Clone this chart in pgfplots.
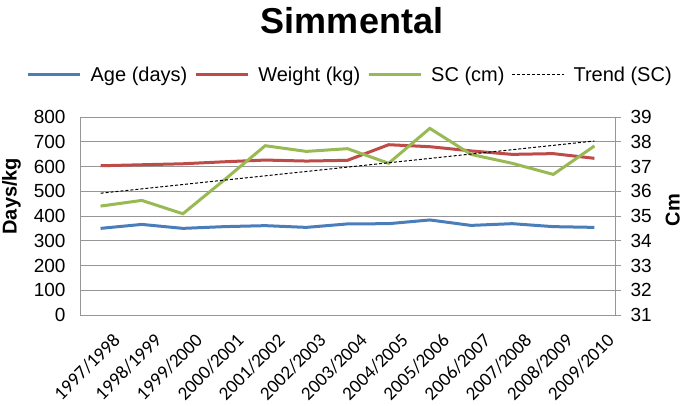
\documentclass[border=0pt]{standalone}
\usepackage{fontspec}
\setmainfont{Liberation Sans}
\newfontfamily\calfont{Carlito}
\usepackage{pgfplots}
\pgfplotsset{compat=1.18}
\definecolor{ageblue}{RGB}{74,126,187}
\definecolor{wtred}{RGB}{190,75,72}
\definecolor{scgreen}{RGB}{152,185,84}
\definecolor{gridgray}{RGB}{150,150,150}

\begin{document}
\begin{tikzpicture}
\useasboundingbox (-80pt,-91pt) rectangle (605pt,315pt);
\begin{axis}[
    scale only axis,
    width=535pt, height=198pt,
    at={(0pt,0pt)}, anchor=south west,
    xmin=-0.5, xmax=12.5,
    ymin=0, ymax=800,
    xtick={0,...,12},
    xticklabels={1997/1998,1998/1999,1999/2000,2000/2001,2001/2002,2002/2003,2003/2004,2004/2005,2005/2006,2006/2007,2007/2008,2008/2009,2009/2010},
    xticklabel style={font=\calfont\fontsize{19}{19}\selectfont, rotate=45, anchor=north east, inner sep=0pt, yshift=-20pt, xshift=-4pt},
    ytick={0,100,...,800},
    yticklabel style={font=\fontsize{19}{19}\selectfont, xshift=-11pt},
    /pgf/number format/assume math mode=true,
    major tick length=0pt,
    ymajorgrids,
    grid style={gridgray, line width=0.8pt},
    axis line style={gridgray, line width=0.8pt},
    axis y line*=left,
    ylabel={Days/kg},
    ylabel style={font=\bfseries\fontsize{20}{20}\selectfont, at={(axis description cs:-0.128,0.6)}, anchor=center},
    legend columns=4,
    legend style={draw=none, fill=none, font=\fontsize{20}{20}\selectfont,
        at={(axis description cs:0.505,1)}, anchor=center, yshift=42pt,
        /tikz/every even column/.append style={column sep=5pt},
        /tikz/every odd column/.append style={column sep=7pt}},
    legend image code/.code={\draw[#1] (0pt,0pt) -- (52pt,0pt);},
]
\addplot[ageblue, line width=3pt] coordinates {
(0,350) (1,366) (2,350) (3,357) (4,361) (5,354) (6,368) (7,369) (8,384) (9,362) (10,369) (11,357) (12,354)};
\addlegendentry{Age (days)}
\addplot[wtred, line width=3pt] coordinates {
(0,603) (1,607) (2,611) (3,619) (4,626) (5,622) (6,625) (7,688) (8,680) (9,663) (10,649) (11,652) (12,633)};
\addlegendentry{Weight (kg)}
\addlegendimage{scgreen, line width=3pt}
\addlegendentry{SC (cm)}
\addlegendimage{black, line width=1pt, dash pattern=on 3pt off 2pt}
\addlegendentry{Trend (SC)}
\end{axis}
\begin{axis}[
    scale only axis,
    width=535pt, height=198pt,
    at={(0pt,0pt)}, anchor=south west,
    xmin=-0.5, xmax=12.5,
    ymin=31, ymax=39,
    ytick={31,...,39},
    axis x line=none,
    axis y line*=right,
    axis line style={gridgray, line width=0.8pt},
    tick style={gridgray, line width=0.8pt},
    tick align=outside,
    major tick length=6pt,
    yticklabel style={font=\fontsize{19}{19}\selectfont, xshift=6pt},
    /pgf/number format/assume math mode=true,
    ylabel={Cm},
    ylabel style={font=\bfseries\fontsize{20}{20}\selectfont, at={(axis description cs:1.108,0.53)}, anchor=center, rotate=0},
]
\addplot[scgreen, line width=3pt] coordinates {
(0,35.40) (1,35.63) (2,35.09) (3,36.45) (4,37.84) (5,37.61) (6,37.72) (7,37.13) (8,38.54) (9,37.49) (10,37.13) (11,36.68) (12,37.83)};
\addplot[black, line width=1pt, dash pattern=on 3pt off 2pt] coordinates {(0,35.92) (12,38.03)};
\end{axis}
\node[font=\bfseries\fontsize{36}{36}\selectfont] at (272pt,294pt) {Simmental};
\end{tikzpicture}
\end{document}
